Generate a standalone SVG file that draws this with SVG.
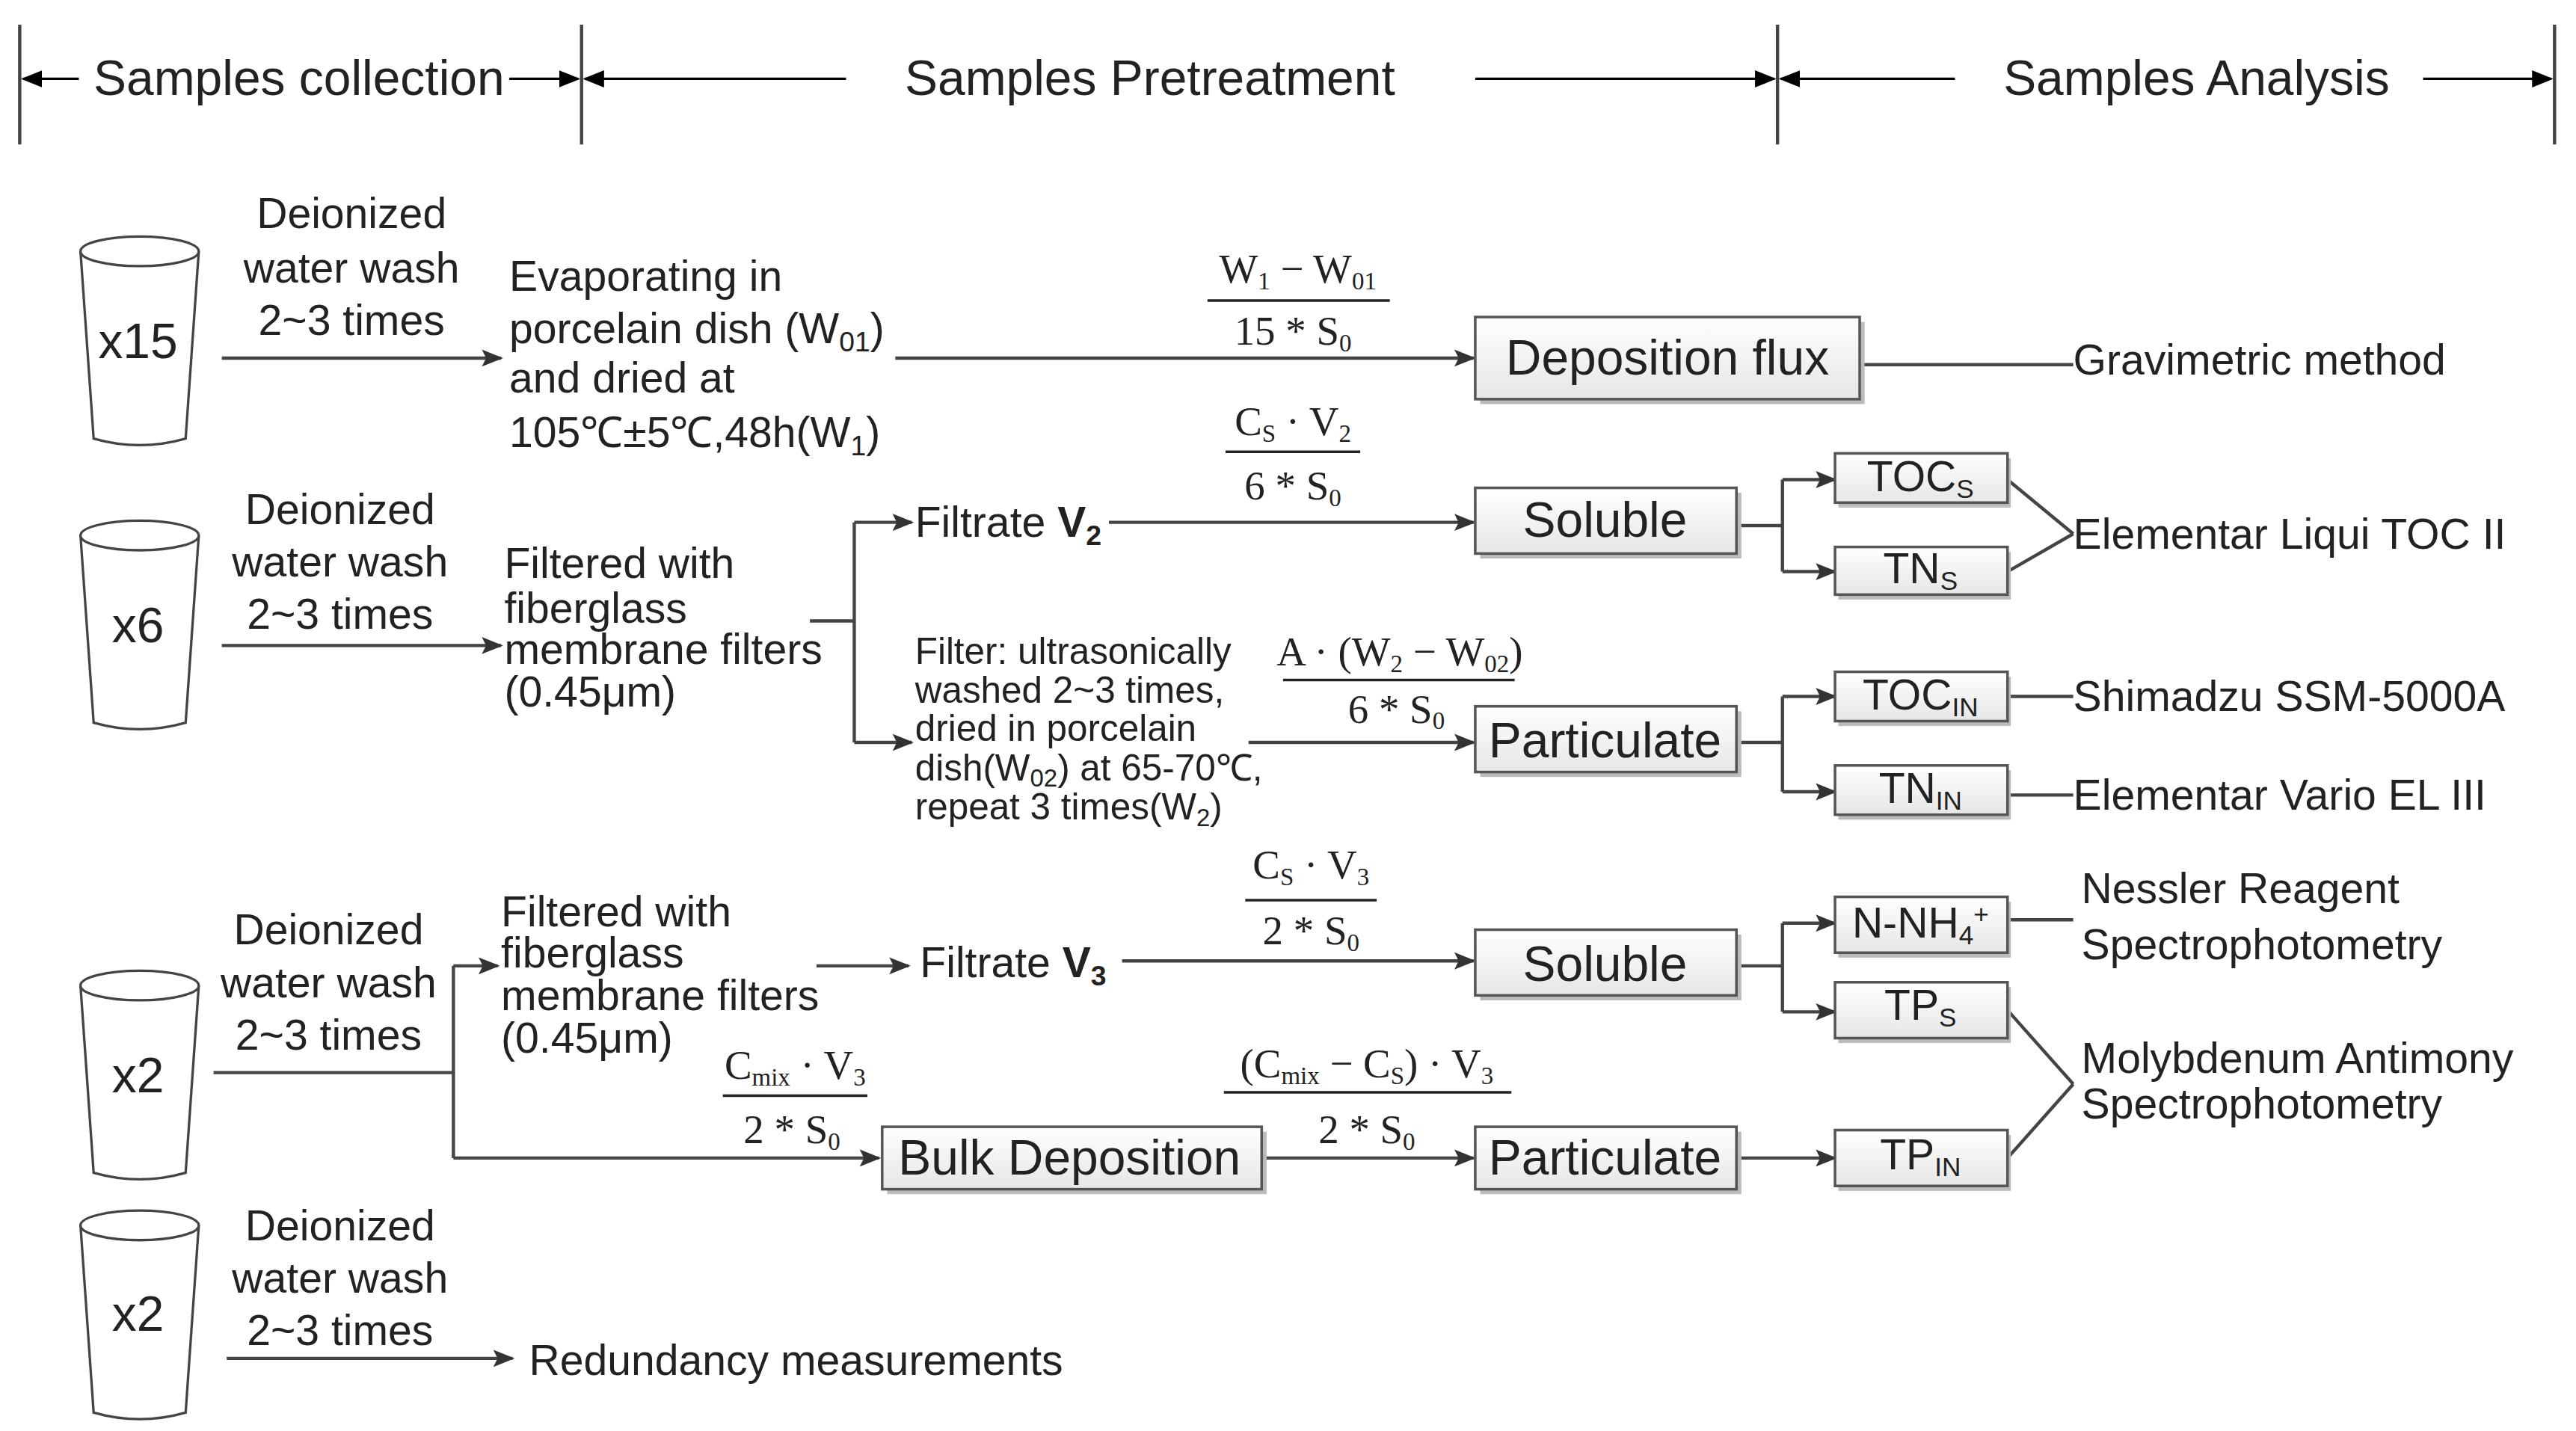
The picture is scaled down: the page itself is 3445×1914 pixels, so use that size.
<svg xmlns="http://www.w3.org/2000/svg" width="3445" height="1914" viewBox="0 0 3445 1914">
<defs>
<marker id="ah" viewBox="0 0 10 10" refX="9" refY="5" markerWidth="13" markerHeight="13" markerUnits="userSpaceOnUse" orient="auto"><path d="M0,1 L10,5 L0,9 L2,5 Z" fill="#333"/></marker>
<marker id="hd" viewBox="0 0 10 10" refX="9" refY="5" markerWidth="13" markerHeight="13" markerUnits="userSpaceOnUse" orient="auto"><path d="M0,1 L10,5 L0,9 Z" fill="#000"/></marker>
<linearGradient id="bg" x1="0" y1="0" x2="0" y2="1"><stop offset="0" stop-color="#ffffff"/><stop offset="1" stop-color="#e6e6e6"/></linearGradient>
<g id="cup"><path d="M-36,0 L-28,114 Q0,122 28,114 L36,0" fill="#fff" stroke="#444" stroke-width="1.5"/><ellipse cx="0" cy="0" rx="36" ry="9" fill="#fff" stroke="#444" stroke-width="1.5"/></g>
</defs>
<style>
text{font-family:"Liberation Sans",Arial,sans-serif;fill:#222}
.t{font-size:26px}
.h{font-size:30px}
.s{font-size:22.5px}
.b{font-size:30px}
.m{font-family:"Liberation Serif","Times New Roman",serif;font-size:25px}
.c{text-anchor:middle}
.ln{stroke:#444;stroke-width:2;fill:none}
.ar{stroke:#444;stroke-width:2;fill:none;marker-end:url(#ah)}
.bx{fill:url(#bg);stroke:#555;stroke-width:1.6}
.sh{fill:#bbb}
.fb{stroke:#222;stroke-width:1.6}
.hl{stroke:#000;stroke-width:1.5;fill:none;marker-end:url(#hd)}
</style>
<rect width="3445" height="1914" fill="#fff"/>
<g transform="scale(2.197)">
<g id="header">
<path class="ln" d="M12,15V88M354,15V88M1082,15V88M1555,15V88" stroke="#555"/>
<path class="hl" d="M48,48H14"/><path class="hl" d="M310,48H352"/><path class="hl" d="M515,48H356"/><path class="hl" d="M898,48H1080"/><path class="hl" d="M1190,48H1084"/><path class="hl" d="M1475,48H1553"/>
<text class="h c" x="182" y="58">Samples collection</text>
<text class="h c" x="700" y="58">Samples Pretreatment</text>
<text class="h c" x="1337" y="58">Samples Analysis</text>
</g>
<g id="cups">
<use href="#cup" x="85" y="153"/><text class="h c" x="84" y="218">x15</text>
<use href="#cup" x="85" y="326"/><text class="h c" x="84" y="391">x6</text>
<use href="#cup" x="85" y="600"/><text class="h c" x="84" y="665">x2</text>
<use href="#cup" x="85" y="746"/><text class="h c" x="84" y="810">x2</text>
</g>
<g id="connectors">
<path class="ar" d="M135,218H305"/>
<path class="ar" d="M545,218H897"/>
<path class="ln" d="M1132,222H1262"/>
<path class="ar" d="M135,393H305"/>
<path class="ln" d="M493,378H520M520,318V452"/>
<path class="ar" d="M520,318H555"/>
<path class="ar" d="M520,452H555"/>
<path class="ar" d="M675,318H897"/>
<path class="ar" d="M760,452H897"/>
<path class="ln" d="M1057,320H1085M1085,292V348M1057,452H1085M1085,424V482"/>
<path class="ar" d="M1085,292H1117"/><path class="ar" d="M1085,348H1117"/>
<path class="ar" d="M1085,424H1117"/><path class="ar" d="M1085,482H1117"/>
<path class="ln" d="M1222,292L1262,325M1222,348L1262,325M1222,424H1262M1222,484H1262"/>
<path class="ln" d="M130,653H276M276,588V705"/>
<path class="ar" d="M276,588H303"/>
<path class="ar" d="M276,705H535"/>
<path class="ar" d="M497,588H553"/>
<path class="ar" d="M683,585H897"/>
<path class="ar" d="M768,705H897"/>
<path class="ln" d="M1057,588H1085M1085,562V616"/>
<path class="ar" d="M1085,562H1117"/><path class="ar" d="M1085,616H1117"/>
<path class="ar" d="M1057,705H1117"/>
<path class="ln" d="M1222,560H1262M1222,615L1262,660M1222,705L1262,660"/>
<path class="ar" d="M138,827H312"/>
</g>
<g id="texts">
<text class="t c"><tspan x="214" y="139">Deionized</tspan><tspan x="214" y="172">water wash</tspan><tspan x="214" y="204">2~3 times</tspan></text>
<text class="t"><tspan x="310" y="177">Evaporating in</tspan><tspan x="310" y="209">porcelain dish (W<tspan font-size="17" dy="5">01</tspan><tspan dy="-5">)</tspan></tspan><tspan x="310" y="239">and dried at</tspan><tspan x="310" y="272">105℃±5℃,48h(W<tspan font-size="17" dy="5">1</tspan><tspan dy="-5">)</tspan></tspan></text>
<text class="t c"><tspan x="207" y="319">Deionized</tspan><tspan x="207" y="351">water wash</tspan><tspan x="207" y="383">2~3 times</tspan></text>
<text class="t"><tspan x="307" y="352">Filtered with</tspan><tspan x="307" y="379">fiberglass</tspan><tspan x="307" y="404">membrane filters</tspan><tspan x="307" y="430">(0.45μm)</tspan></text>
<text class="t" x="557" y="327">Filtrate <tspan font-weight="bold">V<tspan font-size="17" dy="5">2</tspan></tspan></text>
<text class="s"><tspan x="557" y="404">Filter: ultrasonically</tspan><tspan x="557" y="428">washed  2~3 times,</tspan><tspan x="557" y="451">dried in porcelain</tspan><tspan x="557" y="475">dish(W<tspan font-size="15" dy="4">02</tspan><tspan dy="-4">) at 65-70℃,</tspan></tspan><tspan x="557" y="499">repeat 3 times(W<tspan font-size="15" dy="4">2</tspan><tspan dy="-4">)</tspan></tspan></text>
<text class="t c"><tspan x="200" y="575">Deionized</tspan><tspan x="200" y="607">water wash</tspan><tspan x="200" y="639">2~3 times</tspan></text>
<text class="t"><tspan x="305" y="564">Filtered with</tspan><tspan x="305" y="589">fiberglass</tspan><tspan x="305" y="615">membrane filters</tspan><tspan x="305" y="641">(0.45μm)</tspan></text>
<text class="t" x="560" y="595">Filtrate <tspan font-weight="bold">V<tspan font-size="17" dy="5">3</tspan></tspan></text>
<text class="t c"><tspan x="207" y="755">Deionized</tspan><tspan x="207" y="787">water wash</tspan><tspan x="207" y="819">2~3 times</tspan></text>
<text class="t" x="322" y="837">Redundancy measurements</text>
<text class="t" x="1262" y="228">Gravimetric method</text>
<text class="t" x="1262" y="334">Elementar Liqui TOC II</text>
<text class="t" x="1262" y="433">Shimadzu SSM-5000A</text>
<text class="t" x="1262" y="493">Elementar Vario EL III</text>
<text class="t"><tspan x="1267" y="550">Nessler Reagent</tspan><tspan x="1267" y="584">Spectrophotometry</tspan></text>
<text class="t"><tspan x="1267" y="653">Molybdenum Antimony</tspan><tspan x="1267" y="681">Spectrophotometry</tspan></text>
</g>
<g id="formulas">
<text class="m c" x="790" y="172">W<tspan font-size="15" dy="4">1</tspan><tspan dy="-4"> − W</tspan><tspan font-size="15" dy="4">01</tspan></text>
<line class="fb" x1="735" y1="183" x2="846" y2="183"/>
<text class="m c" x="787" y="210">15 * S<tspan font-size="15" dy="4">0</tspan></text>
<text class="m c" x="787" y="265">C<tspan font-size="15" dy="4">S</tspan><tspan dy="-4"> · V</tspan><tspan font-size="15" dy="4">2</tspan></text>
<line class="fb" x1="746" y1="275" x2="828" y2="275"/>
<text class="m c" x="787" y="304">6 * S<tspan font-size="15" dy="4">0</tspan></text>
<text class="m c" x="852" y="405">A · (W<tspan font-size="15" dy="4">2</tspan><tspan dy="-4"> − W</tspan><tspan font-size="15" dy="4">02</tspan><tspan dy="-4">)</tspan></text>
<line class="fb" x1="781" y1="414" x2="922" y2="414"/>
<text class="m c" x="850" y="440">6 * S<tspan font-size="15" dy="4">0</tspan></text>
<text class="m c" x="798" y="535">C<tspan font-size="15" dy="4">S</tspan><tspan dy="-4"> · V</tspan><tspan font-size="15" dy="4">3</tspan></text>
<line class="fb" x1="758" y1="548" x2="838" y2="548"/>
<text class="m c" x="798" y="575">2 * S<tspan font-size="15" dy="4">0</tspan></text>
<text class="m c" x="484" y="657">C<tspan font-size="15" dy="4">mix</tspan><tspan dy="-4"> · V</tspan><tspan font-size="15" dy="4">3</tspan></text>
<line class="fb" x1="440" y1="667" x2="528" y2="667"/>
<text class="m c" x="482" y="696">2 * S<tspan font-size="15" dy="4">0</tspan></text>
<text class="m c" x="832" y="656">(C<tspan font-size="15" dy="4">mix</tspan><tspan dy="-4"> − C</tspan><tspan font-size="15" dy="4">S</tspan><tspan dy="-4">) · V</tspan><tspan font-size="15" dy="4">3</tspan></text>
<line class="fb" x1="745" y1="665" x2="920" y2="665"/>
<text class="m c" x="832" y="696">2 * S<tspan font-size="15" dy="4">0</tspan></text>
</g>
<g id="n-depflux"><rect class="sh" x="901" y="196" width="234" height="50"/><rect class="bx" x="898" y="193" width="234" height="50"/><text class="b c" x="1015" y="228">Deposition flux</text></g>
<g id="n-sol1"><rect class="sh" x="901" y="300" width="159" height="40"/><rect class="bx" x="898" y="297" width="159" height="40"/><text class="b c" x="977" y="327">Soluble</text></g>
<g id="n-part1"><rect class="sh" x="901" y="433" width="159" height="40"/><rect class="bx" x="898" y="430" width="159" height="40"/><text class="b c" x="977" y="461">Particulate</text></g>
<g id="n-tocs"><rect class="sh" x="1119" y="279" width="105" height="30"/><rect class="bx" x="1117" y="276" width="105" height="30"/><text class="t c" x="1169" y="299">TOC<tspan font-size="16" dy="4">S</tspan></text></g>
<g id="n-tns"><rect class="sh" x="1119" y="336" width="105" height="29"/><rect class="bx" x="1117" y="333" width="105" height="29"/><text class="t c" x="1169" y="355">TN<tspan font-size="16" dy="4">S</tspan></text></g>
<g id="n-tocin"><rect class="sh" x="1119" y="412" width="105" height="30"/><rect class="bx" x="1117" y="409" width="105" height="30"/><text class="t c" x="1169" y="432">TOC<tspan font-size="16" dy="4">IN</tspan></text></g>
<g id="n-tnin"><rect class="sh" x="1119" y="469" width="105" height="30"/><rect class="bx" x="1117" y="466" width="105" height="30"/><text class="t c" x="1169" y="489">TN<tspan font-size="16" dy="4">IN</tspan></text></g>
<g id="n-sol2"><rect class="sh" x="901" y="569" width="159" height="40"/><rect class="bx" x="898" y="566" width="159" height="40"/><text class="b c" x="977" y="597">Soluble</text></g>
<g id="n-nh4"><rect class="sh" x="1119" y="549" width="105" height="34"/><rect class="bx" x="1117" y="546" width="105" height="34"/><text class="t c" x="1169" y="571">N-NH<tspan font-size="16" dy="4">4</tspan><tspan font-size="16" dy="-13">+</tspan></text></g>
<g id="n-tps"><rect class="sh" x="1119" y="601" width="105" height="34"/><rect class="bx" x="1117" y="598" width="105" height="34"/><text class="t c" x="1169" y="621">TP<tspan font-size="16" dy="4">S</tspan></text></g>
<g id="n-bulk"><rect class="sh" x="540" y="689" width="231" height="38"/><rect class="bx" x="537" y="686" width="231" height="38"/><text class="b c" x="651" y="715">Bulk Deposition</text></g>
<g id="n-part2"><rect class="sh" x="901" y="689" width="159" height="38"/><rect class="bx" x="898" y="686" width="159" height="38"/><text class="b c" x="977" y="715">Particulate</text></g>
<g id="n-tpin"><rect class="sh" x="1119" y="691" width="105" height="34"/><rect class="bx" x="1117" y="688" width="105" height="34"/><text class="t c" x="1169" y="712">TP<tspan font-size="16" dy="4">IN</tspan></text></g>
</g>
</svg>
